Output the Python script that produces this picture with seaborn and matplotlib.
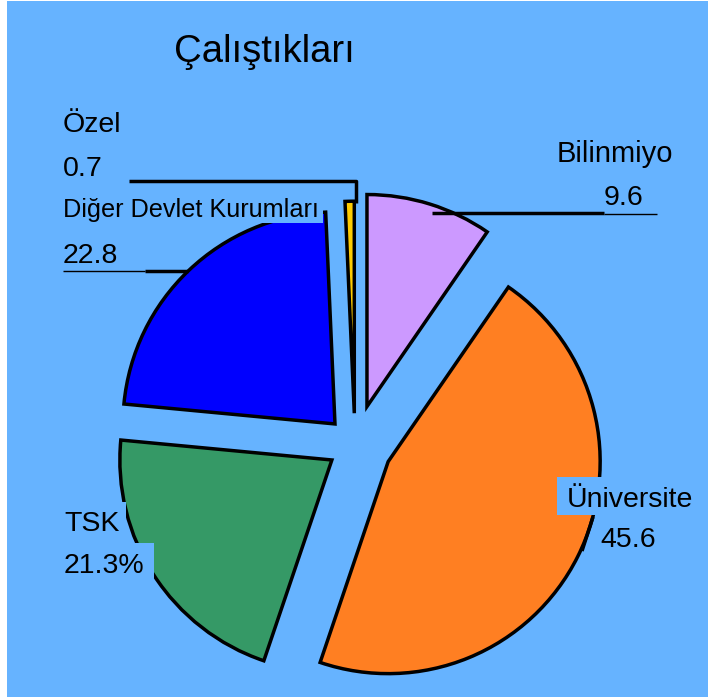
import matplotlib
matplotlib.use("Agg")
import matplotlib.pyplot as plt
from matplotlib.lines import Line2D
import seaborn as sns

sns.set_style("white")
plt.rcParams['font.family'] = ['Liberation Sans', 'DejaVu Sans']
plt.rcParams['text.color'] = 'black'

# data, clockwise from 12 o'clock
labels = ["Bilinmiyo", "Üniversite", "TSK", "Diğer Devlet Kurumları", "Özel"]
values = [9.6, 45.6, 21.3, 22.8, 0.7]
value_labels = ["9.6", "45.6", "21.3%", "22.8", "0.7"]
colors = ["#CC99FF", "#FF7F22", "#359966", "#0000FF", "#FFCC00"]
explode = [0.19, 0.175, 0.13, 0.137, 0.15]

BG = "#66B3FF"
W, H = 708, 697
CX, CY, R = 355, 445, 212  # pie centre / radius in pixels


def px(x, y):
    return (x / W, 1 - y / H)


fig = plt.figure(figsize=(W / 100, H / 100), dpi=100, facecolor="white")
ax = fig.add_axes([7 / W, 0, 1 - 7 / W, 1 - 1 / H])
ax.set_facecolor(BG)

ax.pie(values, explode=explode, colors=colors, startangle=90, counterclock=False,
       wedgeprops=dict(edgecolor="black", linewidth=2.5))
ax.set_aspect("auto")
ax.set_xlim((7 - CX) / R, (W - CX) / R)
ax.set_ylim(-(H - CY) / R, (CY - 1) / R)
ax.axis("off")
fig.patches.append(plt.Rectangle(px(7, H), 1 - 7 / W, 1 - 1 / H, transform=fig.transFigure,
                                 facecolor=BG, edgecolor="none", zorder=-1))


def label_box(x0, y0, x1, y1):
    # background patch behind a label, drawn over the slices
    fig.add_artist(plt.Rectangle(px(x0, y1), (x1 - x0) / W, (y1 - y0) / H,
                                 transform=fig.transFigure, facecolor=BG,
                                 edgecolor="none", zorder=2))


label_box(557, 477, 708, 515)
label_box(60, 502, 126, 543)
label_box(60, 543, 154, 579)
label_box(60, 198, 323, 223)

# title
fig.text(*px(174, 62), "Çalıştıkları", fontsize=27.5, ha="left", va="baseline")

# labels
fig.text(*px(557, 162), labels[0], fontsize=21, va="baseline")
fig.text(*px(604, 205), value_labels[0], fontsize=20.5, va="baseline")
fig.text(*px(567, 507), labels[1], fontsize=20.5, va="baseline")
fig.text(*px(600, 547), value_labels[1], fontsize=20.5, va="baseline")
fig.text(*px(64, 531), labels[2], fontsize=20.5, va="baseline")
fig.text(*px(64, 573), value_labels[2], fontsize=20.5, va="baseline")
fig.text(*px(63, 217), labels[3], fontsize=18.2, va="baseline")
fig.text(*px(63, 263), value_labels[3], fontsize=20.5, va="baseline")
fig.text(*px(63, 132), labels[4], fontsize=20.5, va="baseline")
fig.text(*px(63, 176), value_labels[4], fontsize=20.5, va="baseline")


def line(points, lw=2.5):
    xs, ys = zip(*[px(x, y) for x, y in points])
    fig.add_artist(Line2D(xs, ys, color="black", lw=lw, transform=fig.transFigure,
                          solid_capstyle="butt", zorder=5))


# leader lines
line([(129, 181), (356, 181), (356, 203)])
line([(432, 213), (604, 213)])
line([(604, 214), (657, 214)], lw=1)
line([(145, 271), (188, 271)])
line([(63, 271), (145, 271)], lw=1)
line([(593, 517), (582, 551)])

fig.savefig("out.png", dpi=100, facecolor=fig.get_facecolor())
